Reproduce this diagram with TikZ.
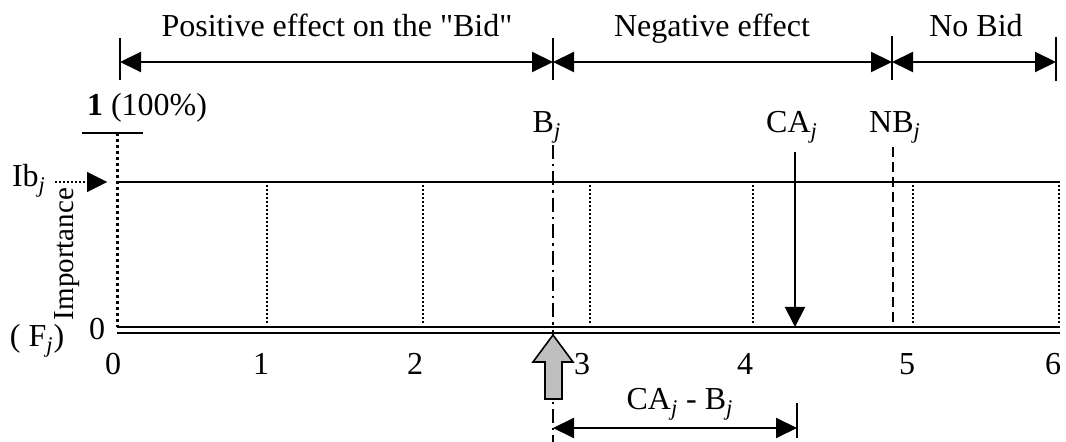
\documentclass[tikz,border=0pt]{standalone}
\usepackage{fontspec}
\setmainfont{Liberation Serif}[Ligatures=TeXOff]
\usetikzlibrary{arrows.meta}
\begin{document}
\begin{tikzpicture}[x=0.5pt,y=-0.5pt,
  every node/.style={inner sep=0pt,outer sep=0pt,font=\fontsize{16}{18}\selectfont},
  lbl/.style={anchor=base},
  dimline/.style={line width=1pt,{Triangle[length=10.5pt,width=10pt]}-{Triangle[length=10.5pt,width=10pt]}},
  tickline/.style={line width=0.8pt},
  gridline/.style={line width=0.6pt,dash pattern=on 1pt off 1pt},
  axisline/.style={line width=1pt},
  tri/.style={-{Triangle[length=10pt,width=10pt]}}
]
\useasboundingbox (0,0) rectangle (1066,442);

% ---- top dimension bar ----
\coordinate (t0a) at (120,38); \coordinate (t0b) at (120,80);
\coordinate (t1a) at (553,38); \coordinate (t1b) at (553,80);
\coordinate (t2a) at (892,36); \coordinate (t2b) at (892,80);
\coordinate (t3a) at (1056,37); \coordinate (t3b) at (1056,81);
\draw[tickline] (t0a) -- (t0b);
\draw[tickline] (t1a) -- (t1b);
\draw[tickline] (t2a) -- (t2b);
\draw[tickline] (t3a) -- (t3b);
\coordinate (d0) at (120,62); \coordinate (d1) at (553,62);
\coordinate (d2) at (892,62); \coordinate (d3) at (1056,62);
\draw[dimline] (d0) -- (d1);
\draw[dimline] (d1) -- (d2);
\draw[dimline] (d2) -- (d3);
\node[lbl] (pos) at (337,37) {Positive effect on the "Bid"};
\node[lbl] (neg) at (712,37) {Negative effect};
\node[lbl] (nob) at (976,37) {No Bid};

% ---- left axis ----
\coordinate (top1a) at (82,133); \coordinate (top1b) at (143,133);
\draw[line width=1pt] (top1a) -- (top1b);
\node[lbl,anchor=base west] (one) at (87,116) {\textbf{1} (100\%)};
\coordinate (vtop) at (117,133); \coordinate (vbot) at (117,327);
\draw[line width=1.5pt,dash pattern=on 1.5pt off 1.5pt] (vtop) -- (vbot);

\node[lbl,anchor=base west] (ib) at (12,187) {Ib\textsubscript{\textit{j}}};
\coordinate (ibs) at (55,182); \coordinate (ibm) at (88,182); \coordinate (ibt) at (107,182);
\draw[line width=0.7pt,dash pattern=on 1pt off 1pt] (ibs) -- (ibm);
\draw[tri,line width=0.1pt] (ibm) -- (ibt);

\node[rotate=90,font=\fontsize{14.5}{16}\selectfont] (imp) at (67,254) {Importance};
\node[lbl] (zy) at (97,340) {0};
\node[lbl,anchor=base west] (fj) at (10,347) {( F\textsubscript{\textit{j}})};

% ---- horizontal lines ----
\coordinate (ibl) at (117,182); \coordinate (ibr) at (1060,182);
\draw[axisline] (ibl) -- (ibr);
\coordinate (b1l) at (117,327); \coordinate (b1r) at (1060,327);
\coordinate (b2l) at (117,333); \coordinate (b2r) at (1060,333);
\draw[line width=0.8pt] (b1l) -- (b1r);
\draw[line width=1.3pt] (b2l) -- (b2r);

% ---- dotted grid lines ----
\foreach \gx/\nm in {267/g1,423/g2,590/g3,753/g4,913/g5,1059/g6}{
  \coordinate (\nm a) at (\gx,185);
  \coordinate (\nm b) at (\gx,325);
  \draw[gridline] (\nm a) -- (\nm b);
}

% ---- tick labels ----
\node[lbl] (x0) at (113,375) {0};
\node[lbl] (x1) at (261,375) {1};
\node[lbl] (x2) at (415,375) {2};
\node[lbl] (x3) at (582,375) {3};
\node[lbl] (x4) at (745,375) {4};
\node[lbl] (x5) at (907,375) {5};
\node[lbl] (x6) at (1053,375) {6};

% ---- B_j ----
\node[lbl] (bj) at (547,133) {B\textsubscript{\textit{j}}};
\coordinate (btop) at (553,145); \coordinate (bbot) at (553,442);
\draw[line width=0.9pt,dash pattern=on 7pt off 2.5pt on 1.2pt off 2.5pt] (btop) -- (bbot);

% ---- CA_j ----
\node[lbl] (caj) at (792,133) {CA\textsubscript{\textit{j}}};
\coordinate (catop) at (795,152); \coordinate (cabot) at (795,327);
\draw[line width=1pt,tri] (catop) -- (cabot);

% ---- NB_j ----
\node[lbl] (nbj) at (895,133) {NB\textsubscript{\textit{j}}};
\coordinate (nbtop) at (893,147); \coordinate (nbbot) at (893,327);
\draw[line width=1pt,dash pattern=on 5pt off 2.5pt] (nbtop) -- (nbbot);

% ---- gray block arrow ----
\draw[line width=0.8pt,fill=black!25,line join=miter]
  (553,335) -- (573,362) -- (562,362) -- (562,399) -- (545,399) -- (545,362) -- (533,362) -- cycle;

% ---- bottom dimension ----
\coordinate (bdl) at (553,428); \coordinate (bdr) at (797,428);
\coordinate (bta) at (797,403); \coordinate (btb) at (797,438);
\draw[tickline] (bta) -- (btb);
\draw[dimline] (bdl) -- (bdr);
\node[lbl] (diff) at (680,410) {CA\textsubscript{\textit{j}} - B\textsubscript{\textit{j}}};
\end{tikzpicture}
\end{document}
